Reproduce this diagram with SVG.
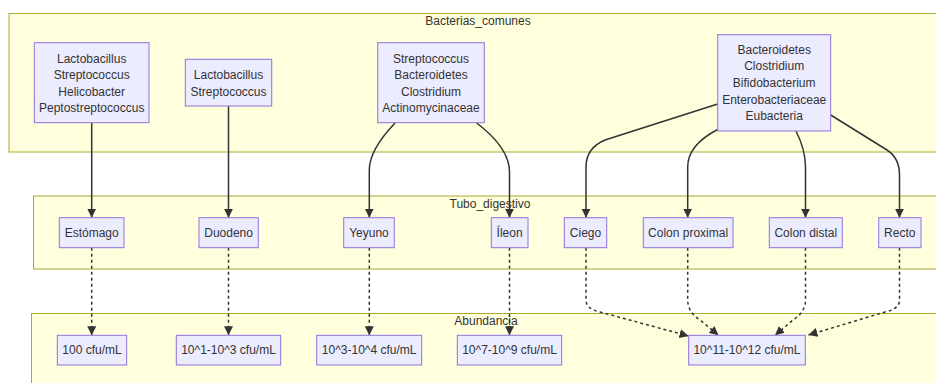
<svg xmlns="http://www.w3.org/2000/svg" width="936" height="383" viewBox="0 0 936 383">
<style>
.cluster{fill:#ffffde;stroke:#aaaa33;stroke-width:1}
.node rect{fill:#ececff;stroke:#9370db;stroke-width:1}
text{font-family:"Liberation Sans",Arial,sans-serif;font-size:12px;fill:#333;text-anchor:middle}
.edge{fill:none;stroke:#333;stroke-width:1.5}
.dot{stroke-dasharray:3,3}
</style>
<defs>
<marker id="arr" viewBox="0 0 10 10" refX="10" refY="5" markerWidth="9" markerHeight="9" markerUnits="userSpaceOnUse" orient="auto">
<path d="M0,0 L10,5 L0,10 z" fill="#333"/>
</marker>
</defs>
<rect width="936" height="383" fill="#fff"/>
<g id="clusters">
<rect class="cluster" x="9" y="13.5" width="940" height="138.5"/>
<text x="478" y="25">Bacterias_comunes</text>
<rect class="cluster" x="33.5" y="196" width="915" height="73"/>
<text x="490" y="208">Tubo_digestivo</text>
<rect class="cluster" x="31.5" y="313.5" width="917" height="80"/>
<text x="486" y="325">Abundancia</text>
</g>
<g id="connectors">
<path class="edge" marker-end="url(#arr)" d="M91.7,122.7 L91.7,217.7"/>
<path class="edge" marker-end="url(#arr)" d="M228.5,106 L228.5,217.7"/>
<path class="edge" marker-end="url(#arr)" d="M395,123 Q369.3,150 369.3,170 L369.3,217.7"/>
<path class="edge" marker-end="url(#arr)" d="M476.7,123 Q509.5,148 509.5,172 L509.5,217.7"/>
<path class="edge" marker-end="url(#arr)" d="M717.7,104 L605,140 Q586,148 586,167 L586,217.7"/>
<path class="edge" marker-end="url(#arr)" d="M717.7,129.5 Q687.7,145 687.7,167 L687.7,217.7"/>
<path class="edge" marker-end="url(#arr)" d="M796,131 Q805.5,150 805.5,167 L805.5,217.7"/>
<path class="edge" marker-end="url(#arr)" d="M830.7,115 L887,150 Q899.5,158 899.5,175 L899.5,217.7"/>
<path class="edge dot" marker-end="url(#arr)" d="M91.7,247.7 L91.7,335.3"/>
<path class="edge dot" marker-end="url(#arr)" d="M228.5,247.7 L228.5,335.3"/>
<path class="edge dot" marker-end="url(#arr)" d="M369.3,247.7 L369.3,335.3"/>
<path class="edge dot" marker-end="url(#arr)" d="M509.5,247.7 L509.5,335.3"/>
<path class="edge dot" marker-end="url(#arr)" d="M586,247.7 L586,300 Q586,309 600,312 L688.5,336"/>
<path class="edge dot" marker-end="url(#arr)" d="M687.7,247.7 L687.7,300 Q687.7,312 700,320 L718.5,335.3"/>
<path class="edge dot" marker-end="url(#arr)" d="M805.5,247.7 L805.5,300 Q805.5,312 793,320 L775,335.3"/>
<path class="edge dot" marker-end="url(#arr)" d="M899.5,247.7 L899.5,300 Q899.5,309 885,312 L808.5,335"/>
</g>
<g id="b1" class="node"><rect x="34.3" y="42.7" width="114.7" height="80"/>
<text x="91.7" y="62.5">Lactobacillus</text><text x="91.7" y="79">Streptococcus</text><text x="91.7" y="95.5">Helicobacter</text><text x="91.7" y="112">Peptostreptococcus</text></g>
<g id="b2" class="node"><rect x="185.3" y="59.3" width="86.4" height="46.7"/>
<text x="228.5" y="79">Lactobacillus</text><text x="228.5" y="95.5">Streptococcus</text></g>
<g id="b3" class="node"><rect x="377.7" y="42.7" width="106.6" height="80"/>
<text x="431" y="62.5">Streptococcus</text><text x="431" y="79">Bacteroidetes</text><text x="431" y="95.5">Clostridium</text><text x="431" y="112">Actinomycinaceae</text></g>
<g id="b4" class="node"><rect x="717.7" y="34.7" width="113" height="96.3"/>
<text x="774.2" y="53.5">Bacteroidetes</text><text x="774.2" y="70.2">Clostridium</text><text x="774.2" y="86.9">Bifidobacterium</text><text x="774.2" y="103.6">Enterobacteriaceae</text><text x="774.2" y="120.3">Eubacteria</text></g>
<g id="t1" class="node"><rect x="59.3" y="217.7" width="64.7" height="30"/><text x="91.7" y="236.9">Estómago</text></g>
<g id="t2" class="node"><rect x="199" y="217.7" width="59.3" height="30"/><text x="228.6" y="236.9">Duodeno</text></g>
<g id="t3" class="node"><rect x="343.7" y="217.7" width="50.6" height="30"/><text x="369" y="236.9">Yeyuno</text></g>
<g id="t4" class="node"><rect x="491.3" y="217.7" width="36.7" height="30"/><text x="509.6" y="236.9">Íleon</text></g>
<g id="t5" class="node"><rect x="564.3" y="217.7" width="42.4" height="30"/><text x="585.5" y="236.9">Ciego</text></g>
<g id="t6" class="node"><rect x="643.3" y="217.7" width="89.7" height="30"/><text x="688.1" y="236.9">Colon proximal</text></g>
<g id="t7" class="node"><rect x="769.3" y="217.7" width="73" height="30"/><text x="805.8" y="236.9">Colon distal</text></g>
<g id="t8" class="node"><rect x="878.7" y="217.7" width="42.3" height="30"/><text x="899.8" y="236.9">Recto</text></g>
<g id="a1" class="node"><rect x="57.3" y="335.3" width="69.4" height="29.7"/><text x="92" y="354.4">100 cfu/mL</text></g>
<g id="a2" class="node"><rect x="176.3" y="335.3" width="104.4" height="29.7"/><text x="228.5" y="354.4">10^1-10^3 cfu/mL</text></g>
<g id="a3" class="node"><rect x="316.7" y="335.3" width="105" height="29.7"/><text x="369.2" y="354.4">10^3-10^4 cfu/mL</text></g>
<g id="a4" class="node"><rect x="457.3" y="335.3" width="104.4" height="29.7"/><text x="509.5" y="354.4">10^7-10^9 cfu/mL</text></g>
<g id="a5" class="node"><rect x="688.7" y="335.3" width="116.6" height="29.7"/><text x="747" y="354.4">10^11-10^12 cfu/mL</text></g>
</svg>
